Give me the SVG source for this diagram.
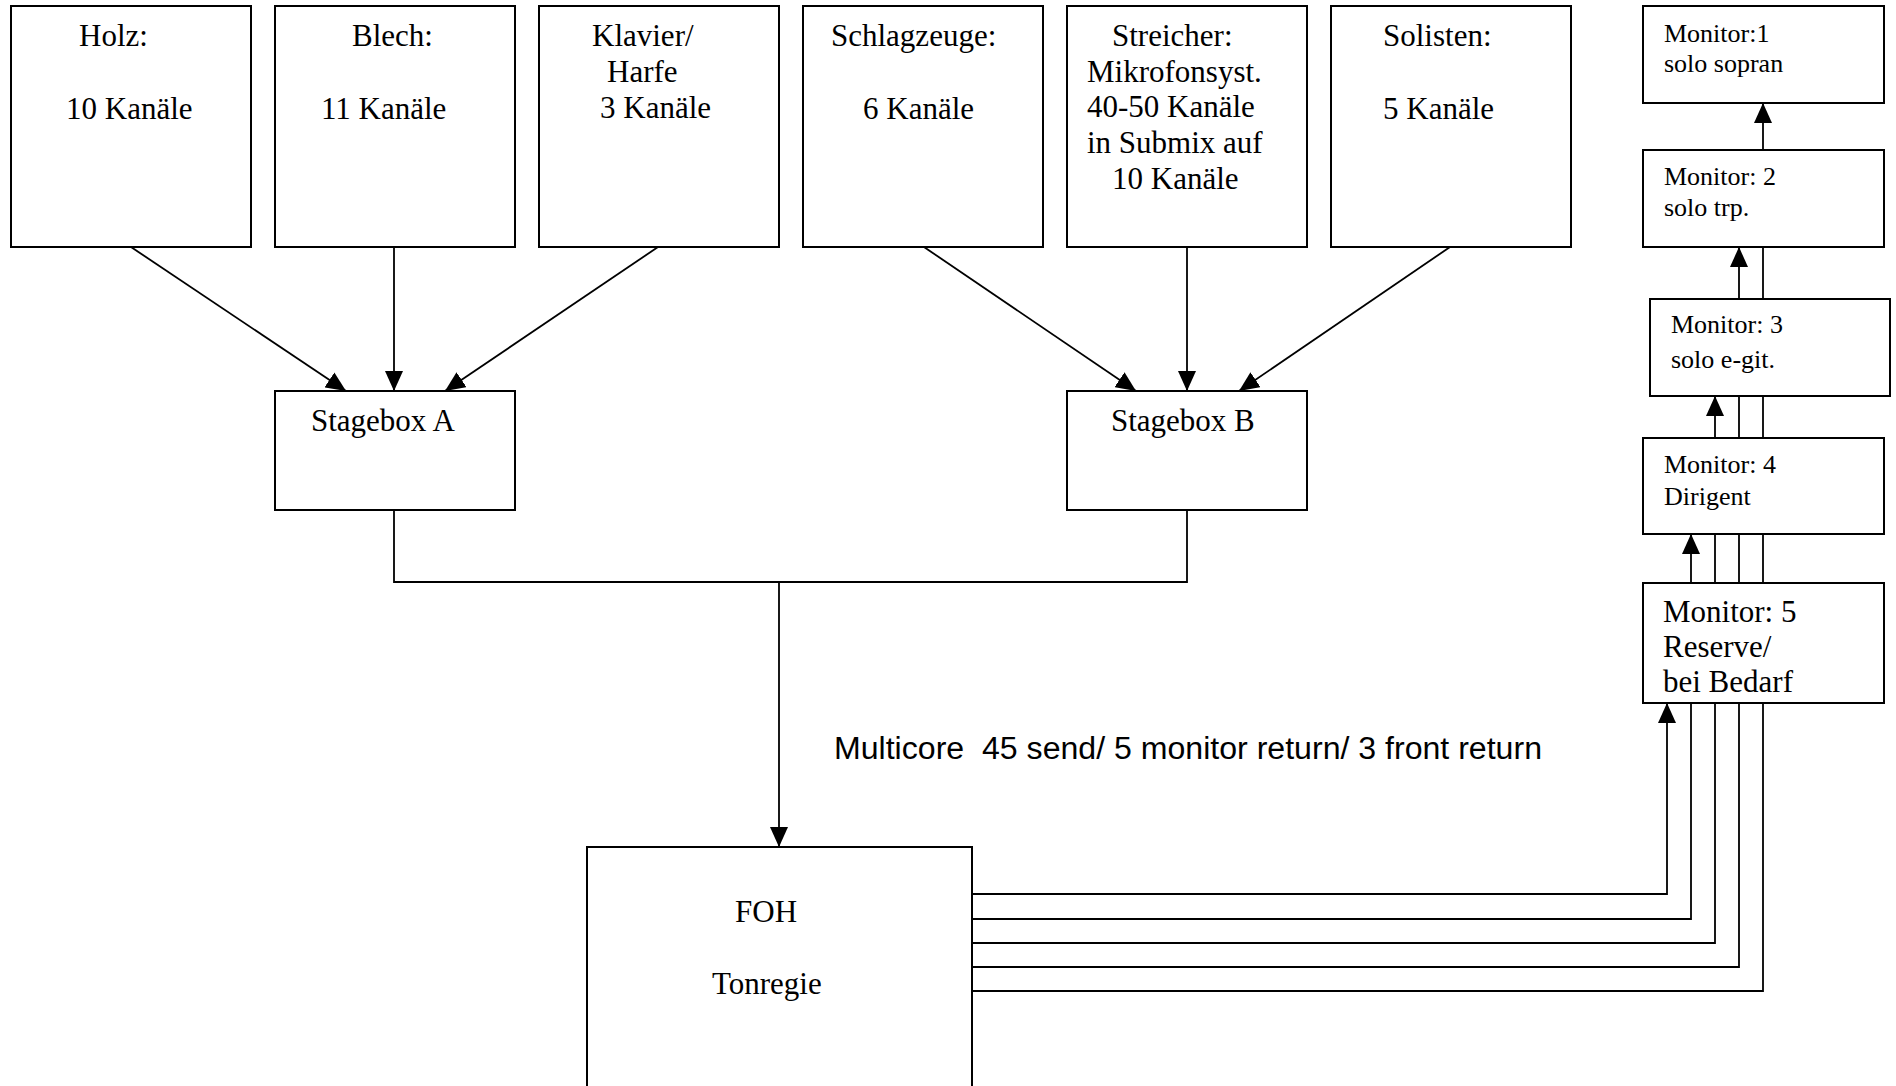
<svg xmlns="http://www.w3.org/2000/svg" width="1896" height="1086" viewBox="0 0 1896 1086">
<style>
.box{fill:#fff;stroke:#000;stroke-width:2}
.ln{fill:none;stroke:#000;stroke-width:1.8}
.t{font-family:"Liberation Serif","Times New Roman",serif;font-size:31px;fill:#000}
.m{font-family:"Liberation Serif","Times New Roman",serif;font-size:26px;fill:#000}
.s{font-family:"Liberation Sans",Arial,sans-serif;font-size:31px;fill:#000;white-space:pre}
</style>
<defs>
<marker id="ah" markerUnits="userSpaceOnUse" markerWidth="20" markerHeight="18" refX="20" refY="9" orient="auto" viewBox="0 0 20 18">
<path d="M0,0 L20,9 L0,18 z" fill="#000"/>
</marker>
</defs>
<rect width="1896" height="1086" fill="#fff"/>
<g id="connectors">
<line class="ln" x1="131" y1="247" x2="346" y2="391" marker-end="url(#ah)"/>
<line class="ln" x1="394" y1="247" x2="394" y2="391" marker-end="url(#ah)"/>
<line class="ln" x1="658" y1="247" x2="445" y2="391" marker-end="url(#ah)"/>
<line class="ln" x1="924" y1="247" x2="1136" y2="391" marker-end="url(#ah)"/>
<line class="ln" x1="1187" y1="247" x2="1187" y2="391" marker-end="url(#ah)"/>
<line class="ln" x1="1450" y1="247" x2="1239" y2="391" marker-end="url(#ah)"/>
<polyline class="ln" points="394,510 394,582 1187,582 1187,510"/>
<line class="ln" x1="779" y1="582" x2="779" y2="847" marker-end="url(#ah)"/>
<polyline class="ln" points="972,894 1667,894 1667,703" marker-end="url(#ah)"/>
<polyline class="ln" points="972,919 1691,919 1691,534" marker-end="url(#ah)"/>
<polyline class="ln" points="972,943 1715,943 1715,396" marker-end="url(#ah)"/>
<polyline class="ln" points="972,967 1739,967 1739,247" marker-end="url(#ah)"/>
<polyline class="ln" points="972,991 1763,991 1763,103" marker-end="url(#ah)"/>
</g>
<g id="holz">
<rect class="box" x="11" y="6" width="240" height="241"/>
<text class="t" x="79" y="46">Holz:</text>
<text class="t" x="66" y="119">10 Kanäle</text>
</g>
<g id="blech">
<rect class="box" x="275" y="6" width="240" height="241"/>
<text class="t" x="352" y="46">Blech:</text>
<text class="t" x="321" y="119">11 Kanäle</text>
</g>
<g id="klavier">
<rect class="box" x="539" y="6" width="240" height="241"/>
<text class="t" x="592" y="46">Klavier/</text>
<text class="t" x="607" y="82">Harfe</text>
<text class="t" x="600" y="118">3 Kanäle</text>
</g>
<g id="schlagzeuge">
<rect class="box" x="803" y="6" width="240" height="241"/>
<text class="t" x="831" y="46">Schlagzeuge:</text>
<text class="t" x="863" y="119">6 Kanäle</text>
</g>
<g id="streicher">
<rect class="box" x="1067" y="6" width="240" height="241"/>
<text class="t" x="1112" y="46">Streicher:</text>
<text class="t" x="1087" y="82">Mikrofonsyst.</text>
<text class="t" x="1087" y="117">40-50 Kanäle</text>
<text class="t" x="1087" y="153">in Submix auf</text>
<text class="t" x="1112" y="189">10 Kanäle</text>
</g>
<g id="solisten">
<rect class="box" x="1331" y="6" width="240" height="241"/>
<text class="t" x="1383" y="46">Solisten:</text>
<text class="t" x="1383" y="119">5 Kanäle</text>
</g>
<g id="stageboxA">
<rect class="box" x="275" y="391" width="240" height="119"/>
<text class="t" x="311" y="431">Stagebox A</text>
</g>
<g id="stageboxB">
<rect class="box" x="1067" y="391" width="240" height="119"/>
<text class="t" x="1111" y="431">Stagebox B</text>
</g>
<g id="foh">
<rect class="box" x="587" y="847" width="385" height="260"/>
<text class="t" x="735" y="922">FOH</text>
<text class="t" x="712" y="994">Tonregie</text>
</g>
<g id="monitor1">
<rect class="box" x="1643" y="6" width="241" height="97"/>
<text class="m" x="1664" y="42">Monitor:1</text>
<text class="m" x="1664" y="72">solo sopran</text>
</g>
<g id="monitor2">
<rect class="box" x="1643" y="150" width="241" height="97"/>
<text class="m" x="1664" y="185">Monitor: 2</text>
<text class="m" x="1664" y="216">solo trp.</text>
</g>
<g id="monitor3">
<rect class="box" x="1650" y="299" width="240" height="97"/>
<text class="m" x="1671" y="333">Monitor: 3</text>
<text class="m" x="1671" y="368">solo e-git.</text>
</g>
<g id="monitor4">
<rect class="box" x="1643" y="438" width="241" height="96"/>
<text class="m" x="1664" y="473">Monitor: 4</text>
<text class="m" x="1664" y="505">Dirigent</text>
</g>
<g id="monitor5">
<rect class="box" x="1643" y="583" width="241" height="120"/>
<text class="t" x="1663" y="622">Monitor: 5</text>
<text class="t" x="1663" y="657">Reserve/</text>
<text class="t" x="1663" y="692">bei Bedarf</text>
</g>
<g id="label">
<text class="s" x="834" y="759" textLength="708" lengthAdjust="spacingAndGlyphs" xml:space="preserve">Multicore  45 send/ 5 monitor return/ 3 front return</text>
</g>
</svg>
